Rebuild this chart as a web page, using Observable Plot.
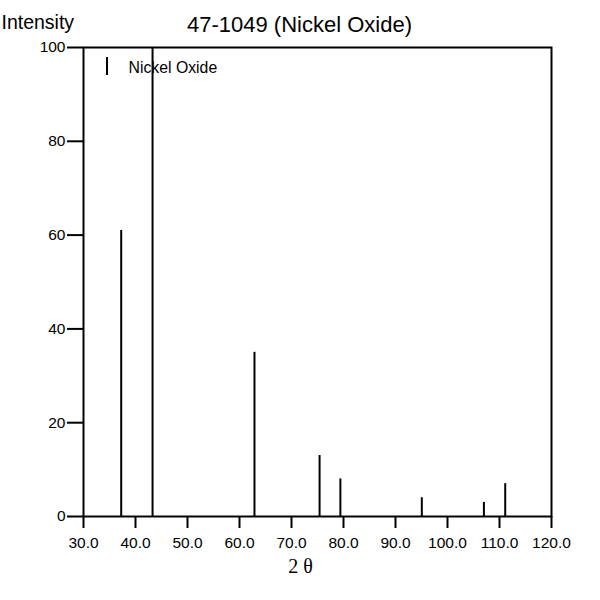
<!DOCTYPE html>
<html>
<head>
<meta charset="utf-8">
<script src="https://cdn.jsdelivr.net/npm/d3@7"></script>
<script src="https://cdn.jsdelivr.net/npm/@observablehq/plot@0.6"></script>
<style>
  body { margin: 0; background: #fff; }
</style>
</head>
<body>
<div id="chart"></div>
<script>
const twoTheta = [37.25, 43.28, 62.88, 75.4, 79.4, 95.06, 107.0, 111.1];
const intensity = [61, 100, 35, 13, 8, 4, 3, 7];
const xTicks = [30, 40, 50, 60, 70, 80, 90, 100, 110, 120];
const yTicks = [0, 20, 40, 60, 80, 100];
const titleText = "47-1049 (Nickel Oxide)";
const yLabel = "Intensity";
const xLabel = "2 θ";
const seriesName = "Nickel Oxide";

const peaks = twoTheta.map((x, i) => ({x, y: intensity[i]}));

const legendSwatch = (index, scales, values, dims) => {
  const g = d3.create("svg:g");
  g.append("line")
    .attr("x1", dims.marginLeft + 24).attr("x2", dims.marginLeft + 24)
    .attr("y1", dims.marginTop + 10).attr("y2", dims.marginTop + 28)
    .attr("stroke", "black").attr("stroke-width", 2);
  return g.node();
};

const chart = Plot.plot({
  width: 600,
  height: 600,
  marginLeft: 83,
  marginRight: 49,
  marginTop: 47,
  marginBottom: 84,
  style: {fontFamily: "Liberation Sans, Arial, sans-serif", fontSize: "16px", background: "#fff", color: "#000"},
  x: {domain: [30, 120]},
  y: {domain: [0, 100]},
  marks: [
    Plot.axisX({ticks: xTicks, tickFormat: d3.format(".1f"), tickSize: 12, tickPadding: 8, label: null, fontSize: 15.5, strokeWidth: 2}),
    Plot.axisY({ticks: yTicks, tickSize: 16, tickPadding: 2, label: null, fontSize: 15.5, strokeWidth: 2}),
    Plot.ruleX(peaks, {x: "x", y1: 0, y2: "y", stroke: "black", strokeWidth: 2}),
    Plot.frame({stroke: "black", strokeWidth: 2}),
    legendSwatch,
    Plot.text([seriesName], {frameAnchor: "top-left", textAnchor: "start", lineAnchor: "middle", dx: 45, dy: 20, fontSize: 15.8, fill: "black"}),
    Plot.text([titleText], {frameAnchor: "top", lineAnchor: "middle", dx: -18, dy: -23, fontSize: 22, fill: "black"}),
    Plot.text([yLabel], {frameAnchor: "top-left", textAnchor: "start", lineAnchor: "middle", dx: -82, dy: -25, fontSize: 19.5, fill: "black"}),
    Plot.text([xLabel], {frameAnchor: "bottom", lineAnchor: "middle", dx: -17, dy: 50, fontSize: 20, fontFamily: "Liberation Serif, Times New Roman, serif", fill: "black"})
  ]
});
document.getElementById("chart").append(chart);
</script>
</body>
</html>
